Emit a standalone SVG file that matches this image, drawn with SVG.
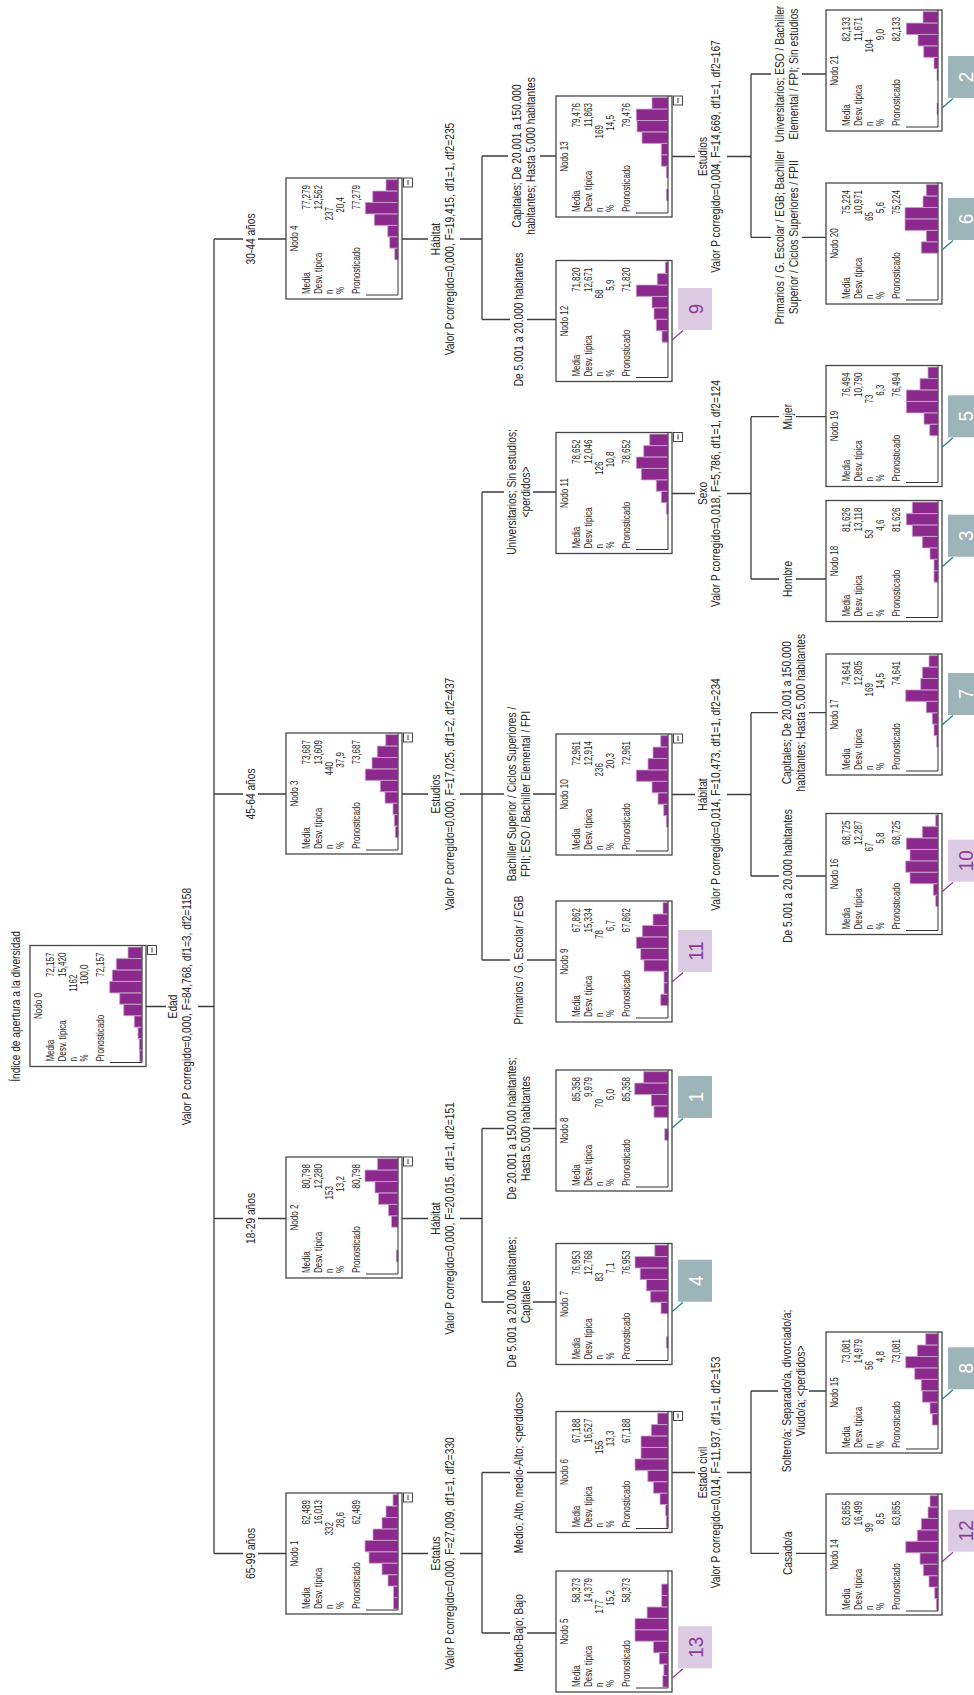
<svg xmlns="http://www.w3.org/2000/svg" width="974" height="1695" viewBox="0 0 974 1695">
<style>
text{font-family:"Liberation Sans",Arial,sans-serif;fill:#262626}
.box{fill:#fff;stroke:#474747;stroke-width:1.3}
.conn{fill:none;stroke:#3c3c3c;stroke-width:1.3}
.ax{fill:none;stroke:#333;stroke-width:1}
.bar{fill:#8b2a8c;stroke:#c9a1cd;stroke-width:.8}
.mb{fill:#fff;stroke:#333;stroke-width:.9}
.nt{font-size:11.5px;text-anchor:middle}
.nl{font-size:11.5px}
.nv{font-size:11.5px;text-anchor:end}
.lb{font-size:12px;text-anchor:middle}
.tg text{font-size:21px;text-anchor:middle}
.tg path{fill:none;stroke-width:1.2}
.tgG rect{fill:#9db5b9}.tgG text{fill:#fff}.tgG path{stroke:#1d7f89}
.tgL rect{fill:#ddcbe4}.tgL text{fill:#8d3a97}.tgL path{stroke:#8d3a97}
</style>
<rect width="974" height="1695" fill="#fff"/>
<g transform="translate(0 1695) rotate(-90)">
<text class="lb" transform="translate(688.5 20) scale(.85 1)">Índice de apertura a la diversidad</text>

<g id="connectors">
<path class="conn" d="M688.5 146V166M688.5 198V214M141.5 214H1456
M141.5 214V243M141.5 258V286M476.5 214V243M476.5 258V286M901 214V243M901 258V286M1456 214V243M1456 258V286
M141.5 402V428M141.5 460V482M62 482H222.5
M476.5 402V428M476.5 460V482M393 482H566.5
M901 402V428M901 460V482M735 482H1203
M1456 402V428M1456 460V482M1375.5 482H1539
M62 482V510M62 527V556M222.5 482V510M222.5 527V556
M393 482V504M393 533V556M566.5 482V504M566.5 533V556
M735 482V510M735 527V556M901 482V504M901 533V556
M1203 482V504M1203 533V556M1375.5 482V510M1375.5 527V556
M1539 482V508M1539 540V556
M222.5 672V695M222.5 727V751M141.7 751H304
M900.5 672V695M900.5 727V751M819 751H982.3
M1201.5 672V695M1201.5 727V751M1116 751H1278.3
M1538.5 672V695M1538.5 727V751M1457.7 751H1621
M141.7 751V779M141.7 796V826M304 751V778M304 809V826
M819 751V779M819 796V826M982.3 751V778M982.3 809V826
M1116 751V779M1116 796V826M1278.3 751V779M1278.3 796V826
M1457.7 751V771M1457.7 802V826M1621 751V771M1621 802V826"/>
</g>

<g id="split-labels">
<text class="lb" transform="translate(688.5 177) scale(.85 1)"><tspan x="0" y="0">Edad</tspan><tspan x="0" y="14">Valor P corregido=0,000, F=84,768, df1=3, df2=1158</tspan></text>
<text class="lb" transform="translate(141.5 440) scale(.85 1)"><tspan x="0" y="0">Estatus</tspan><tspan x="0" y="14">Valor P corregido=0,000, F=27,009, df1=1, df2=330</tspan></text>
<text class="lb" transform="translate(476.5 440) scale(.85 1)"><tspan x="0" y="0">Hábitat</tspan><tspan x="0" y="14">Valor P corregido=0,000, F=20,015, df1=1, df2=151</tspan></text>
<text class="lb" transform="translate(901 440) scale(.85 1)"><tspan x="0" y="0">Estudios</tspan><tspan x="0" y="14">Valor P corregido=0,000, F=17,025, df1=2, df2=437</tspan></text>
<text class="lb" transform="translate(1456 440) scale(.85 1)"><tspan x="0" y="0">Hábitat</tspan><tspan x="0" y="14">Valor P corregido=0,000, F=19,415, df1=1, df2=235</tspan></text>
<text class="lb" transform="translate(222.5 707) scale(.85 1)"><tspan x="0" y="0">Estado civil</tspan><tspan x="0" y="13">Valor P corregido=0,014, F=11,937, df1=1, df2=153</tspan></text>
<text class="lb" transform="translate(900.5 707) scale(.85 1)"><tspan x="0" y="0">Hábitat</tspan><tspan x="0" y="13">Valor P corregido=0,014, F=10,473, df1=1, df2=234</tspan></text>
<text class="lb" transform="translate(1201.5 707) scale(.85 1)"><tspan x="0" y="0">Sexo</tspan><tspan x="0" y="13">Valor P corregido=0,018, F=5,786, df1=1, df2=124</tspan></text>
<text class="lb" transform="translate(1538.5 707) scale(.85 1)"><tspan x="0" y="0">Estudios</tspan><tspan x="0" y="13">Valor P corregido=0,004, F=14,669, df1=1, df2=167</tspan></text>
</g>

<g id="edge-labels">
<text class="lb" transform="translate(141.5 255) scale(.85 1)">65-99 años</text>
<text class="lb" transform="translate(476.5 255) scale(.85 1)">18-29 años</text>
<text class="lb" transform="translate(901 255) scale(.85 1)">45-64 años</text>
<text class="lb" transform="translate(1456 255) scale(.85 1)">30-44 años</text>
<text class="lb" transform="translate(62 523) scale(.85 1)">Medio-Bajo; Bajo</text>
<text class="lb" transform="translate(222.5 523) scale(.85 1)">Medio; Alto, medio-Alto; &lt;perdidos&gt;</text>
<text class="lb" transform="translate(393 516) scale(.85 1)"><tspan x="0" y="0">De 5.001 a 20.00 habitantes;</tspan><tspan x="0" y="14">Capitales</tspan></text>
<text class="lb" transform="translate(566.5 516) scale(.85 1)"><tspan x="0" y="0">De 20.001 a 150.00 habitantes;</tspan><tspan x="0" y="14">Hasta 5.000 habitantes</tspan></text>
<text class="lb" transform="translate(735 523) scale(.85 1)">Primarios / G. Escolar / EGB</text>
<text class="lb" transform="translate(901 516) scale(.85 1)"><tspan x="0" y="0">Bachiller Superior / Ciclos Superiores /</tspan><tspan x="0" y="14">FPII; ESO / Bachiller Elemental / FPI</tspan></text>
<text class="lb" transform="translate(1203 516) scale(.85 1)"><tspan x="0" y="0">Universitarios; Sin estudios;</tspan><tspan x="0" y="14">&lt;perdidos&gt;</tspan></text>
<text class="lb" transform="translate(1375.5 523) scale(.85 1)">De 5.001 a 20.000 habitantes</text>
<text class="lb" transform="translate(1539 521) scale(.85 1)"><tspan x="0" y="0">Capitales; De 20.001 a 150.000</tspan><tspan x="0" y="14">habitantes;  Hasta 5.000 habitantes</tspan></text>
<text class="lb" transform="translate(141.7 792) scale(.85 1)">Casado/a</text>
<text class="lb" transform="translate(304 791) scale(.85 1)"><tspan x="0" y="0">Soltero/a; Separado/a, divorciado/a;</tspan><tspan x="0" y="14">Viudo/a; &lt;perdidos&gt;</tspan></text>
<text class="lb" transform="translate(819 792) scale(.85 1)">De 5.001 a 20.000 habitantes</text>
<text class="lb" transform="translate(982.3 791) scale(.85 1)"><tspan x="0" y="0">Capitales; De 20.001 a 150.000</tspan><tspan x="0" y="14">habitantes; Hasta 5.000 habitantes</tspan></text>
<text class="lb" transform="translate(1116 792) scale(.85 1)">Hombre</text>
<text class="lb" transform="translate(1278.3 792) scale(.85 1)">Mujer</text>
<text class="lb" transform="translate(1457.7 784) scale(.85 1)"><tspan x="0" y="0">Primarios / G. Escolar / EGB; Bachiller</tspan><tspan x="0" y="14">Superior / Ciclos Superiores / FPII</tspan></text>
<text class="lb" transform="translate(1621 784) scale(.85 1)"><tspan x="0" y="0">Universitarios; ESO / Bachiller</tspan><tspan x="0" y="14">Elemental / FPI; Sin estudios</tspan></text>
</g>

<g id="node0" transform="translate(628.5 30)"><rect class="box" width="121" height="116"/><g transform="scale(.7 1)"><text class="nt" x="86.4" y="12">Nodo 0</text><text class="nl"><tspan x="7" y="24.5">Media</tspan><tspan x="7" y="36">Desv. típica</tspan><tspan x="7" y="47">n</tspan><tspan x="7" y="58.5">%</tspan><tspan x="7" y="74">Pronosticado</tspan></text><text class="nv"><tspan x="162.9" y="24.5">72,157</tspan><tspan x="162.9" y="36">15,420</tspan><tspan x="131.4" y="47">1162</tspan><tspan x="145.7" y="58.5">100,0</tspan><tspan x="162.9" y="74">72,157</tspan></text></g><path class="bar" d="M5 112v-2.3h11.4V112zM16.4 112v-2.7h11.4V112zM27.9 112v-4h11.4V112zM39.3 112v-7.7h11.4V112zM50.8 112v-18.3h11.4V112zM62.2 112v-22.3h11.4V112zM73.6 112v-32.3h11.4V112zM85.1 112v-29.7h11.4V112zM96.5 112v-25.7h11.4V112zM108 112v-14h11.4V112z"/><path class="ax" d="M4 80V112H121"/><rect class="mb" x="112" y="117.5" width="9" height="9"/><path class="ax" d="M114 122H119"/></g>

<g id="node1" transform="translate(81 286)"><rect class="box" width="121" height="116"/><g transform="scale(.7 1)"><text class="nt" x="86.4" y="12">Nodo 1</text><text class="nl"><tspan x="7" y="24.5">Media</tspan><tspan x="7" y="36">Desv. típica</tspan><tspan x="7" y="47">n</tspan><tspan x="7" y="58.5">%</tspan><tspan x="7" y="74">Pronosticado</tspan></text><text class="nv"><tspan x="162.9" y="24.5">62,489</tspan><tspan x="162.9" y="36">16,013</tspan><tspan x="131.4" y="47">332</tspan><tspan x="145.7" y="58.5">28,6</tspan><tspan x="162.9" y="74">62,489</tspan></text></g><path class="bar" d="M5 112v-4.5h11.4V112zM16.4 112v-4.5h11.4V112zM27.9 112v-10h11.4V112zM39.3 112v-16h11.4V112zM50.8 112v-29h11.4V112zM62.2 112v-33h11.4V112zM73.6 112v-25h11.4V112zM85.1 112v-16h11.4V112zM96.5 112v-12h11.4V112zM108 112v-5h11.4V112z"/><path class="ax" d="M4 80V112H121"/><rect class="mb" x="112" y="117.5" width="9" height="9"/><path class="ax" d="M114 122H119"/></g>

<g id="node2" transform="translate(417 286)"><rect class="box" width="121" height="116"/><g transform="scale(.7 1)"><text class="nt" x="86.4" y="12">Nodo 2</text><text class="nl"><tspan x="7" y="24.5">Media</tspan><tspan x="7" y="36">Desv. típica</tspan><tspan x="7" y="47">n</tspan><tspan x="7" y="58.5">%</tspan><tspan x="7" y="74">Pronosticado</tspan></text><text class="nv"><tspan x="162.9" y="24.5">80,798</tspan><tspan x="162.9" y="36">12,280</tspan><tspan x="131.4" y="47">153</tspan><tspan x="145.7" y="58.5">13,2</tspan><tspan x="162.9" y="74">80,798</tspan></text></g><path class="bar" d="M16.4 112v-1.7h11.4V112zM50.8 112v-6.5h11.4V112zM62.2 112v-9.5h11.4V112zM73.6 112v-19.5h11.4V112zM85.1 112v-23h11.4V112zM96.5 112v-33h11.4V112zM108 112v-20.5h11.4V112z"/><path class="ax" d="M4 80V112H121"/><rect class="mb" x="112" y="117.5" width="9" height="9"/><path class="ax" d="M114 122H119"/></g>

<g id="node3" transform="translate(841 286)"><rect class="box" width="121" height="116"/><g transform="scale(.7 1)"><text class="nt" x="86.4" y="12">Nodo 3</text><text class="nl"><tspan x="7" y="24.5">Media</tspan><tspan x="7" y="36">Desv. típica</tspan><tspan x="7" y="47">n</tspan><tspan x="7" y="58.5">%</tspan><tspan x="7" y="74">Pronosticado</tspan></text><text class="nv"><tspan x="162.9" y="24.5">73,687</tspan><tspan x="162.9" y="36">13,609</tspan><tspan x="131.4" y="47">440</tspan><tspan x="145.7" y="58.5">37,9</tspan><tspan x="162.9" y="74">73,687</tspan></text></g><path class="bar" d="M16.4 112v-2.7h11.4V112zM27.9 112v-3.7h11.4V112zM39.3 112v-5h11.4V112zM50.8 112v-13h11.4V112zM62.2 112v-17.7h11.4V112zM73.6 112v-32.7h11.4V112zM85.1 112v-26h11.4V112zM96.5 112v-20.7h11.4V112zM108 112v-12.3h11.4V112z"/><path class="ax" d="M4 80V112H121"/><rect class="mb" x="112" y="117.5" width="9" height="9"/><path class="ax" d="M114 122H119"/></g>

<g id="node4" transform="translate(1396 286)"><rect class="box" width="121" height="116"/><g transform="scale(.7 1)"><text class="nt" x="86.4" y="12">Nodo 4</text><text class="nl"><tspan x="7" y="24.5">Media</tspan><tspan x="7" y="36">Desv. típica</tspan><tspan x="7" y="47">n</tspan><tspan x="7" y="58.5">%</tspan><tspan x="7" y="74">Pronosticado</tspan></text><text class="nv"><tspan x="162.9" y="24.5">77,279</tspan><tspan x="162.9" y="36">12,562</tspan><tspan x="131.4" y="47">237</tspan><tspan x="145.7" y="58.5">20,4</tspan><tspan x="162.9" y="74">77,279</tspan></text></g><path class="bar" d="M39.3 112v-3.3h11.4V112zM50.8 112v-8.3h11.4V112zM62.2 112v-10.3h11.4V112zM73.6 112v-23.7h11.4V112zM85.1 112v-32.7h11.4V112zM96.5 112v-25.3h11.4V112zM108 112v-12h11.4V112z"/><path class="ax" d="M4 80V112H121"/><rect class="mb" x="112" y="117.5" width="9" height="9"/><path class="ax" d="M114 122H119"/></g>

<g id="node5" transform="translate(3 556)"><rect class="box" width="121" height="116"/><g transform="scale(.7 1)"><text class="nt" x="86.4" y="12">Nodo 5</text><text class="nl"><tspan x="7" y="24.5">Media</tspan><tspan x="7" y="36">Desv. típica</tspan><tspan x="7" y="47">n</tspan><tspan x="7" y="58.5">%</tspan><tspan x="7" y="74">Pronosticado</tspan></text><text class="nv"><tspan x="162.9" y="24.5">58,373</tspan><tspan x="162.9" y="36">14,379</tspan><tspan x="131.4" y="47">177</tspan><tspan x="145.7" y="58.5">15,2</tspan><tspan x="162.9" y="74">58,373</tspan></text></g><path class="bar" d="M5 112v-5.2h11.4V112zM16.4 112v-4.2h11.4V112zM27.9 112v-8.7h11.4V112zM39.3 112v-14.6h11.4V112zM50.8 112v-33h11.4V112zM62.2 112v-33h11.4V112zM73.6 112v-20.9h11.4V112zM85.1 112v-6.3h11.4V112zM96.5 112v-6.3h11.4V112z"/><path class="ax" d="M4 80V112H121"/></g>

<g id="node6" transform="translate(162.5 556)"><rect class="box" width="121" height="116"/><g transform="scale(.7 1)"><text class="nt" x="86.4" y="12">Nodo 6</text><text class="nl"><tspan x="7" y="24.5">Media</tspan><tspan x="7" y="36">Desv. típica</tspan><tspan x="7" y="47">n</tspan><tspan x="7" y="58.5">%</tspan><tspan x="7" y="74">Pronosticado</tspan></text><text class="nv"><tspan x="162.9" y="24.5">67,188</tspan><tspan x="162.9" y="36">16,527</tspan><tspan x="131.4" y="47">155</tspan><tspan x="145.7" y="58.5">13,3</tspan><tspan x="162.9" y="74">67,188</tspan></text></g><path class="bar" d="M5 112v-1.7h11.4V112zM16.4 112v-2.4h11.4V112zM27.9 112v-8h11.4V112zM39.3 112v-14.6h11.4V112zM50.8 112v-20.2h11.4V112zM62.2 112v-33h11.4V112zM73.6 112v-27h11.4V112zM85.1 112v-27h11.4V112zM96.5 112v-16.7h11.4V112zM108 112v-10.4h11.4V112z"/><path class="ax" d="M4 80V112H121"/><rect class="mb" x="112" y="117.5" width="9" height="9"/><path class="ax" d="M114 122H119"/></g>

<g id="node7" transform="translate(330.5 556)"><rect class="box" width="121" height="116"/><g transform="scale(.7 1)"><text class="nt" x="86.4" y="12">Nodo 7</text><text class="nl"><tspan x="7" y="24.5">Media</tspan><tspan x="7" y="36">Desv. típica</tspan><tspan x="7" y="47">n</tspan><tspan x="7" y="58.5">%</tspan><tspan x="7" y="74">Pronosticado</tspan></text><text class="nv"><tspan x="162.9" y="24.5">76,953</tspan><tspan x="162.9" y="36">12,768</tspan><tspan x="131.4" y="47">83</tspan><tspan x="145.7" y="58.5">7,1</tspan><tspan x="162.9" y="74">76,953</tspan></text></g><path class="bar" d="M16.4 112v-1.7h11.4V112zM50.8 112v-7h11.4V112zM62.2 112v-17.4h11.4V112zM73.6 112v-21.6h11.4V112zM85.1 112v-27.8h11.4V112zM96.5 112v-33h11.4V112zM108 112v-13.2h11.4V112z"/><path class="ax" d="M4 80V112H121"/></g>

<g id="node8" transform="translate(504 556)"><rect class="box" width="121" height="116"/><g transform="scale(.7 1)"><text class="nt" x="86.4" y="12">Nodo 8</text><text class="nl"><tspan x="7" y="24.5">Media</tspan><tspan x="7" y="36">Desv. típica</tspan><tspan x="7" y="47">n</tspan><tspan x="7" y="58.5">%</tspan><tspan x="7" y="74">Pronosticado</tspan></text><text class="nv"><tspan x="162.9" y="24.5">85,358</tspan><tspan x="162.9" y="36">9,979</tspan><tspan x="131.4" y="47">70</tspan><tspan x="145.7" y="58.5">6,0</tspan><tspan x="162.9" y="74">85,358</tspan></text></g><path class="bar" d="M50.8 112v-3.3h11.4V112zM73.6 112v-14h11.4V112zM85.1 112v-16.7h11.4V112zM96.5 112v-33.3h11.4V112zM108 112v-24.3h11.4V112z"/><path class="ax" d="M4 80V112H121"/></g>

<g id="node9" transform="translate(673 556)"><rect class="box" width="121" height="116"/><g transform="scale(.7 1)"><text class="nt" x="86.4" y="12">Nodo 9</text><text class="nl"><tspan x="7" y="24.5">Media</tspan><tspan x="7" y="36">Desv. típica</tspan><tspan x="7" y="47">n</tspan><tspan x="7" y="58.5">%</tspan><tspan x="7" y="74">Pronosticado</tspan></text><text class="nv"><tspan x="162.9" y="24.5">67,862</tspan><tspan x="162.9" y="36">15,334</tspan><tspan x="131.4" y="47">78</tspan><tspan x="145.7" y="58.5">6,7</tspan><tspan x="162.9" y="74">67,862</tspan></text></g><path class="bar" d="M16.4 112v-7.3h11.4V112zM27.9 112v-4h11.4V112zM39.3 112v-4h11.4V112zM50.8 112v-24h11.4V112zM62.2 112v-27.3h11.4V112zM73.6 112v-31.7h11.4V112zM85.1 112v-25.7h11.4V112zM96.5 112v-15h11.4V112zM108 112v-5h11.4V112z"/><path class="ax" d="M4 80V112H121"/></g>

<g id="node10" transform="translate(840 556)"><rect class="box" width="121" height="116"/><g transform="scale(.7 1)"><text class="nt" x="86.4" y="12">Nodo 10</text><text class="nl"><tspan x="7" y="24.5">Media</tspan><tspan x="7" y="36">Desv. típica</tspan><tspan x="7" y="47">n</tspan><tspan x="7" y="58.5">%</tspan><tspan x="7" y="74">Pronosticado</tspan></text><text class="nv"><tspan x="162.9" y="24.5">72,961</tspan><tspan x="162.9" y="36">12,914</tspan><tspan x="131.4" y="47">236</tspan><tspan x="145.7" y="58.5">20,3</tspan><tspan x="162.9" y="74">72,961</tspan></text></g><path class="bar" d="M27.9 112v-1.7h11.4V112zM39.3 112v-4.3h11.4V112zM50.8 112v-10h11.4V112zM62.2 112v-16h11.4V112zM73.6 112v-31.7h11.4V112zM85.1 112v-20h11.4V112zM96.5 112v-15h11.4V112zM108 112v-7.3h11.4V112z"/><path class="ax" d="M4 80V112H121"/><rect class="mb" x="112" y="117.5" width="9" height="9"/><path class="ax" d="M114 122H119"/></g>

<g id="node11" transform="translate(1141.5 556)"><rect class="box" width="121" height="116"/><g transform="scale(.7 1)"><text class="nt" x="86.4" y="12">Nodo 11</text><text class="nl"><tspan x="7" y="24.5">Media</tspan><tspan x="7" y="36">Desv. típica</tspan><tspan x="7" y="47">n</tspan><tspan x="7" y="58.5">%</tspan><tspan x="7" y="74">Pronosticado</tspan></text><text class="nv"><tspan x="162.9" y="24.5">78,652</tspan><tspan x="162.9" y="36">12,046</tspan><tspan x="131.4" y="47">126</tspan><tspan x="145.7" y="58.5">10,8</tspan><tspan x="162.9" y="74">78,652</tspan></text></g><path class="bar" d="M39.3 112v-1.7h11.4V112zM50.8 112v-6.7h11.4V112zM62.2 112v-11.7h11.4V112zM73.6 112v-26.7h11.4V112zM85.1 112v-31.7h11.4V112zM96.5 112v-24.3h11.4V112zM108 112v-18.3h11.4V112z"/><path class="ax" d="M4 80V112H121"/><rect class="mb" x="112" y="117.5" width="9" height="9"/><path class="ax" d="M114 122H119"/></g>

<g id="node12" transform="translate(1313.5 556)"><rect class="box" width="121" height="116"/><g transform="scale(.7 1)"><text class="nt" x="86.4" y="12">Nodo 12</text><text class="nl"><tspan x="7" y="24.5">Media</tspan><tspan x="7" y="36">Desv. típica</tspan><tspan x="7" y="47">n</tspan><tspan x="7" y="58.5">%</tspan><tspan x="7" y="74">Pronosticado</tspan></text><text class="nv"><tspan x="162.9" y="24.5">71,820</tspan><tspan x="162.9" y="36">12,671</tspan><tspan x="131.4" y="47">68</tspan><tspan x="145.7" y="58.5">5,9</tspan><tspan x="162.9" y="74">71,820</tspan></text></g><path class="bar" d="M39.3 112v-6h11.4V112zM50.8 112v-11.7h11.4V112zM62.2 112v-14h11.4V112zM73.6 112v-16h11.4V112zM85.1 112v-31.7h11.4V112zM96.5 112v-10.7h11.4V112zM108 112v-2.7h11.4V112z"/><path class="ax" d="M4 80V112H121"/></g>

<g id="node13" transform="translate(1478 556)"><rect class="box" width="121" height="116"/><g transform="scale(.7 1)"><text class="nt" x="86.4" y="12">Nodo 13</text><text class="nl"><tspan x="7" y="24.5">Media</tspan><tspan x="7" y="36">Desv. típica</tspan><tspan x="7" y="47">n</tspan><tspan x="7" y="58.5">%</tspan><tspan x="7" y="74">Pronosticado</tspan></text><text class="nv"><tspan x="162.9" y="24.5">79,476</tspan><tspan x="162.9" y="36">11,863</tspan><tspan x="131.4" y="47">169</tspan><tspan x="145.7" y="58.5">14,5</tspan><tspan x="162.9" y="74">79,476</tspan></text></g><path class="bar" d="M16.4 112v-1.7h11.4V112zM39.3 112v-1.7h11.4V112zM50.8 112v-6.7h11.4V112zM62.2 112v-6.7h11.4V112zM73.6 112v-26h11.4V112zM85.1 112v-31h11.4V112zM96.5 112v-31.7h11.4V112zM108 112v-16h11.4V112z"/><path class="ax" d="M4 80V112H121"/><rect class="mb" x="112" y="117.5" width="9" height="9"/><path class="ax" d="M114 122H119"/></g>

<g id="node14" transform="translate(80 826)"><rect class="box" width="121" height="116"/><g transform="scale(.7 1)"><text class="nt" x="86.4" y="12">Nodo 14</text><text class="nl"><tspan x="7" y="24.5">Media</tspan><tspan x="7" y="36">Desv. típica</tspan><tspan x="7" y="47">n</tspan><tspan x="7" y="58.5">%</tspan><tspan x="7" y="74">Pronosticado</tspan></text><text class="nv"><tspan x="162.9" y="24.5">63,855</tspan><tspan x="162.9" y="36">16,499</tspan><tspan x="131.4" y="47">99</tspan><tspan x="145.7" y="58.5">8,5</tspan><tspan x="162.9" y="74">63,855</tspan></text></g><path class="bar" d="M5 112v-1.7h11.4V112zM16.4 112v-3.3h11.4V112zM27.9 112v-9h11.4V112zM39.3 112v-14.7h11.4V112zM50.8 112v-18h11.4V112zM62.2 112v-32.3h11.4V112zM73.6 112v-20.7h11.4V112zM85.1 112v-16.7h11.4V112zM96.5 112v-10h11.4V112zM108 112v-8h11.4V112z"/><path class="ax" d="M4 80V112H121"/></g>

<g id="node15" transform="translate(242 826)"><rect class="box" width="121" height="116"/><g transform="scale(.7 1)"><text class="nt" x="86.4" y="12">Nodo 15</text><text class="nl"><tspan x="7" y="24.5">Media</tspan><tspan x="7" y="36">Desv. típica</tspan><tspan x="7" y="47">n</tspan><tspan x="7" y="58.5">%</tspan><tspan x="7" y="74">Pronosticado</tspan></text><text class="nv"><tspan x="162.9" y="24.5">73,081</tspan><tspan x="162.9" y="36">14,979</tspan><tspan x="131.4" y="47">56</tspan><tspan x="145.7" y="58.5">4,8</tspan><tspan x="162.9" y="74">73,081</tspan></text></g><path class="bar" d="M27.9 112v-5.7h11.4V112zM39.3 112v-8h11.4V112zM50.8 112v-15.7h11.4V112zM62.2 112v-16.7h11.4V112zM73.6 112v-23.3h11.4V112zM85.1 112v-32.3h11.4V112zM96.5 112v-20.7h11.4V112zM108 112v-12.3h11.4V112z"/><path class="ax" d="M4 80V112H121"/></g>

<g id="node16" transform="translate(760.5 826)"><rect class="box" width="121" height="116"/><g transform="scale(.7 1)"><text class="nt" x="86.4" y="12">Nodo 16</text><text class="nl"><tspan x="7" y="24.5">Media</tspan><tspan x="7" y="36">Desv. típica</tspan><tspan x="7" y="47">n</tspan><tspan x="7" y="58.5">%</tspan><tspan x="7" y="74">Pronosticado</tspan></text><text class="nv"><tspan x="162.9" y="24.5">68,725</tspan><tspan x="162.9" y="36">12,287</tspan><tspan x="131.4" y="47">67</tspan><tspan x="145.7" y="58.5">5,8</tspan><tspan x="162.9" y="74">68,725</tspan></text></g><path class="bar" d="M27.9 112v-2.3h11.4V112zM39.3 112v-4.7h11.4V112zM50.8 112v-28h11.4V112zM62.2 112v-32.3h11.4V112zM73.6 112v-28h11.4V112zM85.1 112v-31.7h11.4V112zM96.5 112v-15.7h11.4V112zM108 112v-2.3h11.4V112z"/><path class="ax" d="M4 80V112H121"/></g>

<g id="node17" transform="translate(920 826)"><rect class="box" width="121" height="116"/><g transform="scale(.7 1)"><text class="nt" x="86.4" y="12">Nodo 17</text><text class="nl"><tspan x="7" y="24.5">Media</tspan><tspan x="7" y="36">Desv. típica</tspan><tspan x="7" y="47">n</tspan><tspan x="7" y="58.5">%</tspan><tspan x="7" y="74">Pronosticado</tspan></text><text class="nv"><tspan x="162.9" y="24.5">74,641</tspan><tspan x="162.9" y="36">12,805</tspan><tspan x="131.4" y="47">169</tspan><tspan x="145.7" y="58.5">14,5</tspan><tspan x="162.9" y="74">74,641</tspan></text></g><path class="bar" d="M27.9 112v-1.3h11.4V112zM39.3 112v-4h11.4V112zM50.8 112v-5.7h11.4V112zM62.2 112v-11.7h11.4V112zM73.6 112v-32.3h11.4V112zM85.1 112v-17.3h11.4V112zM96.5 112v-15.7h11.4V112zM108 112v-9h11.4V112z"/><path class="ax" d="M4 80V112H121"/></g>

<g id="node18" transform="translate(1073.5 826)"><rect class="box" width="121" height="116"/><g transform="scale(.7 1)"><text class="nt" x="86.4" y="12">Nodo 18</text><text class="nl"><tspan x="7" y="24.5">Media</tspan><tspan x="7" y="36">Desv. típica</tspan><tspan x="7" y="47">n</tspan><tspan x="7" y="58.5">%</tspan><tspan x="7" y="74">Pronosticado</tspan></text><text class="nv"><tspan x="162.9" y="24.5">81,626</tspan><tspan x="162.9" y="36">13,118</tspan><tspan x="131.4" y="47">53</tspan><tspan x="145.7" y="58.5">4,6</tspan><tspan x="162.9" y="74">81,626</tspan></text></g><path class="bar" d="M39.3 112v-4h11.4V112zM50.8 112v-4h11.4V112zM62.2 112v-8h11.4V112zM73.6 112v-15.7h11.4V112zM85.1 112v-25.7h11.4V112zM96.5 112v-31.7h11.4V112zM108 112v-25.7h11.4V112z"/><path class="ax" d="M4 80V112H121"/></g>

<g id="node19" transform="translate(1208.5 826)"><rect class="box" width="121" height="116"/><g transform="scale(.7 1)"><text class="nt" x="86.4" y="12">Nodo 19</text><text class="nl"><tspan x="7" y="24.5">Media</tspan><tspan x="7" y="36">Desv. típica</tspan><tspan x="7" y="47">n</tspan><tspan x="7" y="58.5">%</tspan><tspan x="7" y="74">Pronosticado</tspan></text><text class="nv"><tspan x="162.9" y="24.5">76,494</tspan><tspan x="162.9" y="36">10,790</tspan><tspan x="131.4" y="47">73</tspan><tspan x="145.7" y="58.5">6,3</tspan><tspan x="162.9" y="74">76,494</tspan></text></g><path class="bar" d="M50.8 112v-8.3h11.4V112zM62.2 112v-14h11.4V112zM73.6 112v-31.7h11.4V112zM85.1 112v-31.7h11.4V112zM96.5 112v-18h11.4V112zM108 112v-10h11.4V112z"/><path class="ax" d="M4 80V112H121"/></g>

<g id="node20" transform="translate(1391 826)"><rect class="box" width="121" height="116"/><g transform="scale(.7 1)"><text class="nt" x="86.4" y="12">Nodo 20</text><text class="nl"><tspan x="7" y="24.5">Media</tspan><tspan x="7" y="36">Desv. típica</tspan><tspan x="7" y="47">n</tspan><tspan x="7" y="58.5">%</tspan><tspan x="7" y="74">Pronosticado</tspan></text><text class="nv"><tspan x="162.9" y="24.5">75,224</tspan><tspan x="162.9" y="36">10,971</tspan><tspan x="131.4" y="47">65</tspan><tspan x="145.7" y="58.5">5,6</tspan><tspan x="162.9" y="74">75,224</tspan></text></g><path class="bar" d="M50.8 112v-16.7h11.4V112zM62.2 112v-11.7h11.4V112zM73.6 112v-33h11.4V112zM85.1 112v-33h11.4V112zM96.5 112v-15h11.4V112zM108 112v-11.7h11.4V112z"/><path class="ax" d="M4 80V112H121"/></g>

<g id="node21" transform="translate(1564 826)"><rect class="box" width="121" height="116"/><g transform="scale(.7 1)"><text class="nt" x="86.4" y="12">Nodo 21</text><text class="nl"><tspan x="7" y="24.5">Media</tspan><tspan x="7" y="36">Desv. típica</tspan><tspan x="7" y="47">n</tspan><tspan x="7" y="58.5">%</tspan><tspan x="7" y="74">Pronosticado</tspan></text><text class="nv"><tspan x="162.9" y="24.5">82,133</tspan><tspan x="162.9" y="36">11,671</tspan><tspan x="131.4" y="47">104</tspan><tspan x="145.7" y="58.5">9,0</tspan><tspan x="162.9" y="74">82,133</tspan></text></g><path class="bar" d="M16.4 112v-1h11.4V112zM50.8 112v-1h11.4V112zM62.2 112v-4h11.4V112zM73.6 112v-14.3h11.4V112zM85.1 112v-20h11.4V112zM96.5 112v-31.7h11.4V112zM108 112v-15h11.4V112z"/><path class="ax" d="M4 80V112H121"/></g>

<g id="tags">
<g id="tag13" class="tg tgL"><path d="M16.7 672L26.2 683"/><rect x="26.7" y="678" width="42" height="34"/><text transform="translate(47.7 703) scale(.9 1)">13</text></g>
<g id="tag12" class="tg tgL"><path d="M133.3 942L142.8 953"/><rect x="143.3" y="948" width="42" height="34"/><text transform="translate(164.3 973) scale(.9 1)">12</text></g>
<g id="tag8" class="tg tgG"><path d="M295.7 942L305.2 953"/><rect x="305.7" y="948" width="42" height="34"/><text transform="translate(326.7 973) scale(.9 1)">8</text></g>
<g id="tag4" class="tg tgG"><path d="M383.3 672L392.8 683"/><rect x="393.3" y="678" width="42" height="34"/><text transform="translate(414.3 703) scale(.9 1)">4</text></g>
<g id="tag1" class="tg tgG"><path d="M567 672L576.5 683"/><rect x="577" y="678" width="42" height="34"/><text transform="translate(598 703) scale(.9 1)">1</text></g>
<g id="tag11" class="tg tgL"><path d="M713 672L722.5 683"/><rect x="723" y="678" width="42" height="34"/><text transform="translate(744 703) scale(.9 1)">11</text></g>
<g id="tag10" class="tg tgL"><path d="M803.3 942L812.8 953"/><rect x="813.3" y="948" width="42" height="34"/><text transform="translate(834.3 973) scale(.9 1)">10</text></g>
<g id="tag7" class="tg tgG"><path d="M970 942L979.5 953"/><rect x="980" y="948" width="42" height="34"/><text transform="translate(1001 973) scale(.9 1)">7</text></g>
<g id="tag3" class="tg tgG"><path d="M1128.3 942L1137.8 953"/><rect x="1138.3" y="948" width="42" height="34"/><text transform="translate(1159.3 973) scale(.9 1)">3</text></g>
<g id="tag5" class="tg tgG"><path d="M1247.7 942L1257.2 953"/><rect x="1257.7" y="948" width="42" height="34"/><text transform="translate(1278.7 973) scale(.9 1)">5</text></g>
<g id="tag9" class="tg tgL"><path d="M1355 672L1364.5 683"/><rect x="1365" y="678" width="42" height="34"/><text transform="translate(1386 703) scale(.9 1)">9</text></g>
<g id="tag6" class="tg tgG"><path d="M1445 942L1454.5 953"/><rect x="1455" y="948" width="42" height="34"/><text transform="translate(1476 973) scale(.9 1)">6</text></g>
<g id="tag2" class="tg tgG"><path d="M1587 942L1596.5 953"/><rect x="1597" y="948" width="42" height="34"/><text transform="translate(1618 973) scale(.9 1)">2</text></g>
</g>
</g>
</svg>
